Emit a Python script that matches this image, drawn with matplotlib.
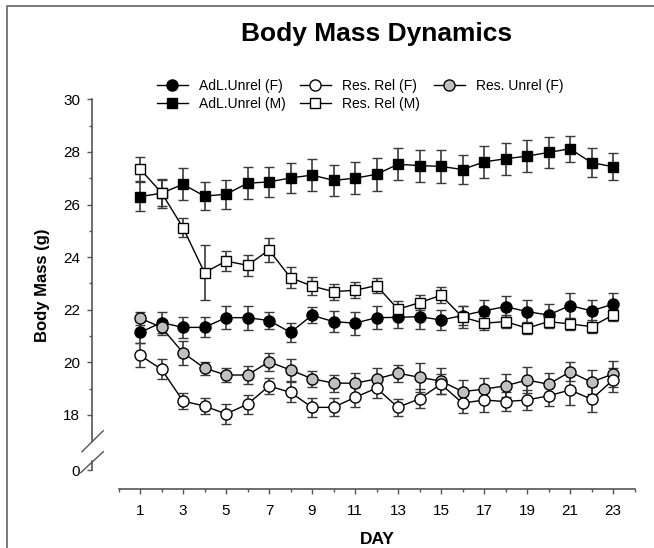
import matplotlib
matplotlib.use('Agg')
import matplotlib.pyplot as plt
from matplotlib.lines import Line2D
from matplotlib.ticker import MultipleLocator

plt.rcParams['font.family'] = ['Liberation Sans', 'DejaVu Sans']

days = list(range(1, 24))

adl_f = [21.14, 21.51, 21.33, 21.33, 21.70, 21.70, 21.59, 21.14, 21.79, 21.55, 21.49, 21.70,
         21.71, 21.74, 21.61, 21.78, 21.96, 22.12, 21.93, 21.80, 22.16, 21.96, 22.21]
adl_f_err = [0.40, 0.40, 0.39, 0.38, 0.43, 0.46, 0.34, 0.36, 0.30, 0.39, 0.44, 0.44,
             0.40, 0.46, 0.39, 0.35, 0.43, 0.40, 0.44, 0.42, 0.46, 0.41, 0.44]

adl_m = [26.30, 26.43, 26.77, 26.32, 26.39, 26.81, 26.86, 27.01, 27.12, 26.92, 27.00, 27.15,
         27.53, 27.48, 27.45, 27.33, 27.62, 27.74, 27.84, 27.98, 28.12, 27.59, 27.44]
adl_m_err = [0.55, 0.55, 0.61, 0.54, 0.56, 0.60, 0.58, 0.58, 0.60, 0.60, 0.60, 0.63,
             0.60, 0.61, 0.63, 0.56, 0.60, 0.60, 0.60, 0.58, 0.50, 0.56, 0.51]

rel_f = [20.27, 19.74, 18.53, 18.34, 18.04, 18.41, 19.10, 18.86, 18.29, 18.29, 18.67, 19.02,
         18.29, 18.62, 19.17, 18.45, 18.57, 18.51, 18.57, 18.73, 18.95, 18.60, 19.33]
rel_f_err = [0.46, 0.37, 0.29, 0.30, 0.38, 0.36, 0.29, 0.38, 0.35, 0.34, 0.38, 0.38,
             0.32, 0.35, 0.38, 0.38, 0.44, 0.36, 0.38, 0.40, 0.58, 0.49, 0.44]

rel_m = [27.35, 26.45, 25.12, 23.41, 23.85, 23.69, 24.27, 23.22, 22.90, 22.69, 22.74, 22.92,
         22.02, 22.27, 22.55, 21.72, 21.49, 21.55, 21.30, 21.55, 21.46, 21.36, 21.80]
rel_m_err = [0.44, 0.50, 0.36, 1.05, 0.38, 0.41, 0.46, 0.39, 0.34, 0.30, 0.30, 0.30,
             0.32, 0.29, 0.30, 0.41, 0.27, 0.25, 0.24, 0.23, 0.22, 0.24, 0.22]

unrel_f = [21.68, 21.33, 20.37, 19.78, 19.52, 19.52, 20.02, 19.71, 19.38, 19.21, 19.21, 19.37,
           19.59, 19.43, 19.29, 18.89, 18.98, 19.11, 19.33, 19.17, 19.64, 19.25, 19.56]
unrel_f_err = [0.25, 0.28, 0.46, 0.25, 0.25, 0.36, 0.35, 0.40, 0.30, 0.32, 0.40, 0.41,
               0.32, 0.55, 0.48, 0.45, 0.41, 0.43, 0.49, 0.41, 0.36, 0.46, 0.48]

W, H = 654, 548
fig = plt.figure(figsize=(W / 100, H / 100), dpi=100)


def box(x0, y0, x1, y1):
    # pixel box, origin top-left -> figure fraction rect
    return [x0 / W, 1 - y1 / H, (x1 - x0) / W, (y1 - y0) / H]


spine_col = '#555555'
err_col = '#3a3a3a'

ax = fig.add_axes(box(118.5, 99.3, 634.5, 441.3))
ax0 = fig.add_axes(box(118.5, 453, 634.5, 489.3))
for a in (ax, ax0):
    a.set_facecolor('none')
    a.set_xlim(0, 24)
    for s in ('top', 'right'):
        a.spines[s].set_visible(False)
    a.spines['left'].set_position(('outward', 19))
    for s in ('left', 'bottom'):
        a.spines[s].set_color(spine_col)
        a.spines[s].set_linewidth(1.2)
    a.tick_params(which='both', direction='out', color=spine_col, width=1.0, labelsize=11, pad=5)
    a.tick_params(which='major', length=3.5)
    a.tick_params(which='minor', length=2)

series = [
    (adl_f, adl_f_err, 'o', 'black', 8),
    (adl_m, adl_m_err, 's', 'black', 7.5),
    (unrel_f, unrel_f_err, 'o', '#c0c0c0', 8),
    (rel_f, rel_f_err, 'o', 'white', 8),
    (rel_m, rel_m_err, 's', 'white', 7.5),
]
for vals, errs, mk, fc, ms in series:
    ax.errorbar(days, vals, yerr=errs, fmt='-' + mk, color='black', lw=1.0,
                mfc=fc, mec='black', mew=1.0, ms=ms,
                ecolor=err_col, elinewidth=1.2, capsize=3.8, capthick=1.2, clip_on=False)

ax.set_ylim(17, 30)
ax.yaxis.set_major_locator(MultipleLocator(2))
ax.yaxis.set_minor_locator(MultipleLocator(1))
ax.set_yticks([18, 20, 22, 24, 26, 28, 30])
ax.set_yticks([19, 21, 23, 25, 27, 29], minor=True)
ax.spines['bottom'].set_visible(False)
ax.tick_params(axis='x', which='both', bottom=False, labelbottom=False)

ax0.set_ylim(-19.3, 17)
ax0.spines['left'].set_bounds(0, 9)
ax0.set_yticks([0])
ax0.set_xticks(range(1, 24, 2))
ax0.set_xticks(range(0, 25, 2), minor=True)
ax0.tick_params(axis='x', pad=7)

# axis break marks
for (x0, y0, x1, y1) in [(82, 451.7, 103.3, 430.7), (80.7, 472.7, 103.3, 451.7)]:
    fig.add_artist(Line2D([x0 / W, x1 / W], [1 - y0 / H, 1 - y1 / H],
                          transform=fig.transFigure, color=spine_col, lw=1.0))

# figure border (left and top)
fig.add_artist(Line2D([7 / W, 7 / W, 1], [0, 1 - 6 / H, 1 - 6 / H],
                      transform=fig.transFigure, color='#707070', lw=1.3))

fig.text(377 / W, 1 - 34 / H, 'Body Mass Dynamics', fontsize=19, fontweight='bold',
         ha='center', va='center')
fig.text(42 / W, 1 - 285 / H, 'Body Mass (g)', fontsize=12, fontweight='bold',
         rotation=90, ha='center', va='center')
fig.text(377 / W, 1 - 540 / H, 'DAY', fontsize=12.5, fontweight='bold',
         ha='center', va='center')

labels = ['AdL.Unrel (F)', 'AdL.Unrel (M)', 'Res. Rel (F)', 'Res. Rel (M)', 'Res. Unrel (F)']
styles = [('o', 'black', 8), ('s', 'black', 7.5), ('o', 'white', 8), ('s', 'white', 7.5),
          ('o', '#c0c0c0', 8)]
handles = [Line2D([], [], color='black', lw=1.0, marker=mk, mfc=fc, mec='black', mew=1.0, ms=ms)
           for mk, fc, ms in styles]
fig.legend(handles, labels, ncol=3, loc='upper left', bbox_to_anchor=(157 / W, 1 - 79 / H),
           frameon=False, fontsize=10, handlelength=2.2, handletextpad=0.85,
           columnspacing=1.0, labelspacing=0.3, borderpad=0, borderaxespad=0)

fig.savefig('out.png', dpi=100)
